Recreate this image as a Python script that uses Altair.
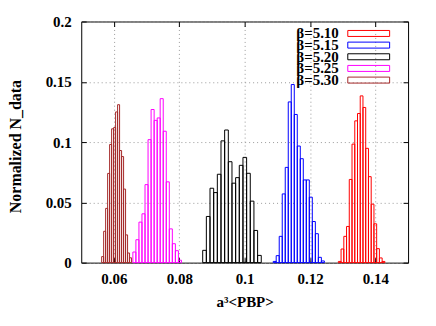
import altair as alt
import pandas as pd

FONT = "Liberation Serif"

betas = ["β=5.10", "β=5.15", "β=5.20", "β=5.25", "β=5.30"]
colors = ["#ff0000", "#0000ff", "#000000", "#ff00ff", "#a52a2a"]

# bin centers, bin widths and normalized counts
centers_510 = [0.12908, 0.12992, 0.13076, 0.13159, 0.13243, 0.13327, 0.13411, 0.13495,
               0.13578, 0.13662, 0.13746, 0.13830, 0.13914, 0.13997, 0.14081, 0.14165, 0.14249]
heights_510 = [0.001, 0.0113, 0.0218, 0.030, 0.069, 0.0983, 0.1176, 0.1237, 0.1383,
               0.1287, 0.0948, 0.0713, 0.0485, 0.0322, 0.0116, 0.0039, 0.001]
width_510 = 0.000838

centers_515 = [0.10919, 0.11011, 0.11104, 0.11196, 0.11288, 0.11380, 0.11472, 0.11564,
               0.11656, 0.11748, 0.11840, 0.11932, 0.12024, 0.12117, 0.12209, 0.12301, 0.12393]
heights_515 = [0.001, 0.0058, 0.0218, 0.057, 0.079, 0.1333, 0.1477, 0.1229, 0.0967,
               0.0862, 0.0686, 0.0686, 0.0543, 0.0341, 0.024, 0.0044, 0.0014]
width_515 = 0.000921

centers_520 = [0.08772, 0.08884, 0.08996, 0.09108, 0.09220, 0.09332, 0.09444, 0.09556,
               0.09668, 0.09780, 0.09892, 0.10004, 0.10116, 0.10228, 0.10340, 0.10452]
heights_520 = [0.0102, 0.0383, 0.0617, 0.0581, 0.0733, 0.101, 0.110, 0.0837, 0.0659,
               0.0705, 0.0807, 0.0873, 0.0741, 0.051, 0.0267, 0.006]
width_520 = 0.00112

centers_525 = [0.06626, 0.06719, 0.06812, 0.06905, 0.06998, 0.07091, 0.07184, 0.07277,
               0.07370, 0.07462, 0.07555, 0.07648, 0.07741, 0.07834, 0.07927, 0.08020]
heights_525 = [0.0088, 0.019, 0.0336, 0.0405, 0.0647, 0.102, 0.127, 0.118, 0.120,
               0.136, 0.109, 0.067, 0.028, 0.0157, 0.0099, 0.002]
width_525 = 0.000929

centers_530 = [0.05655, 0.05716, 0.05777, 0.05838, 0.05899, 0.05960, 0.06021, 0.06082,
               0.06143, 0.06204, 0.06265, 0.06326, 0.06387, 0.06448, 0.06509]
heights_530 = [0.005, 0.026, 0.045, 0.074, 0.098, 0.111, 0.112, 0.125, 0.131,
               0.093, 0.088, 0.061, 0.023, 0.008, 0.004]
width_530 = 0.00061

x_ticks = [0.06, 0.08, 0.10, 0.12, 0.14]
y_ticks = [0, 0.05, 0.1, 0.15, 0.2]

series = [
    (betas[0], centers_510, heights_510, width_510),
    (betas[1], centers_515, heights_515, width_515),
    (betas[2], centers_520, heights_520, width_520),
    (betas[3], centers_525, heights_525, width_525),
    (betas[4], centers_530, heights_530, width_530),
]
rows = []
for name, cs, hs, w in series:
    for c, h in zip(cs, hs):
        rows.append({"beta": name, "x0": c - w / 2, "x1": c + w / 2, "value": h, "zero": 0.0})
df = pd.DataFrame(rows)
legend_df = pd.DataFrame({"beta": betas})

x_scale = alt.Scale(domain=[0.05, 0.15], nice=False, zero=False)
y_scale = alt.Scale(domain=[0, 0.2], nice=False)
color_scale = alt.Scale(domain=betas, range=colors)

label_style = dict(labelFont=FONT, labelFontSize=15, labelFontWeight="bold", labelColor="black")
title_style = dict(titleFont=FONT, titleFontWeight="bold", titleColor="black")
grid_style = dict(grid=True, gridColor="#9a9a9a", gridDash=[1, 3], gridWidth=1)

base = alt.Chart(df)

bars = base.mark_bar(filled=False, strokeWidth=1).encode(
    x=alt.X("x0:Q", scale=x_scale,
            axis=alt.Axis(orient="bottom", values=x_ticks, format="~g", ticks=False, tickSize=0,
                          domain=False, labelPadding=9, title="a³<PBP>", titleFontSize=15,
                          titleX=164, titleY=44, titleBaseline="alphabetic", titleAlign="center",
                          **label_style, **title_style, **grid_style)),
    x2="x1:Q",
    y=alt.Y("value:Q", scale=y_scale,
            axis=alt.Axis(orient="left", values=y_ticks, format="~g", ticks=False, tickSize=0,
                          domain=False, labelPadding=10, title="Normalized N_data",
                          titleFontSize=16,
                          titleX=-65.5, titleY=125, titleAngle=270, titleAlign="center",
                          titleBaseline="middle",
                          **label_style, **title_style, **grid_style)),
    y2="zero:Q",
    color=alt.Color("beta:N", sort=betas, scale=color_scale, legend=None),
)

tick_style = dict(labels=False, grid=False, domain=False, ticks=True, tickSize=5,
                  tickColor="black", tickWidth=1, offset=-5, title=None)

ticks_a = base.mark_point(opacity=0).encode(
    x=alt.X("x0:Q", scale=x_scale, axis=alt.Axis(orient="bottom", values=x_ticks, **tick_style)),
    y=alt.Y("value:Q", scale=y_scale, axis=alt.Axis(orient="left", values=y_ticks, **tick_style)),
)
ticks_b = base.mark_point(opacity=0).encode(
    x=alt.X("x0:Q", scale=x_scale, axis=alt.Axis(orient="top", values=x_ticks, **tick_style)),
    y=alt.Y("value:Q", scale=y_scale, axis=alt.Axis(orient="right", values=y_ticks, **tick_style)),
)

# key (legend) in the top-right corner, gnuplot style: label then sample box
key_rows = alt.Scale(type="point", domain=betas, range=[12, 58.8], padding=0)

key_text = alt.Chart(legend_df).mark_text(
    align="right", baseline="middle", font=FONT, fontSize=15, fontWeight="bold", color="black"
).encode(
    x=alt.value(258.5),
    y=alt.Y("beta:N", scale=key_rows, axis=None),
    text="beta:N",
)
key_box = alt.Chart(legend_df).mark_point(
    shape="M-1,-0.143H1V0.143H-1Z", size=1764, filled=False, strokeWidth=1, opacity=1
).encode(
    x=alt.value(288.5),
    y=alt.Y("beta:N", scale=key_rows, axis=None),
    color=alt.Color("beta:N", scale=color_scale, legend=None),
)

chart = alt.layer(bars, ticks_a, ticks_b, key_text, key_box).resolve_scale(
    y="independent"
).resolve_axis(
    x="independent", y="independent"
).properties(
    width=328, height=242, autosize="none",
    padding={"left": 73.5, "top": 13, "right": 20, "bottom": 50},
).configure_view(stroke="black", strokeWidth=1)

chart.save("out.html", embed_options={"renderer": "svg", "actions": False})
